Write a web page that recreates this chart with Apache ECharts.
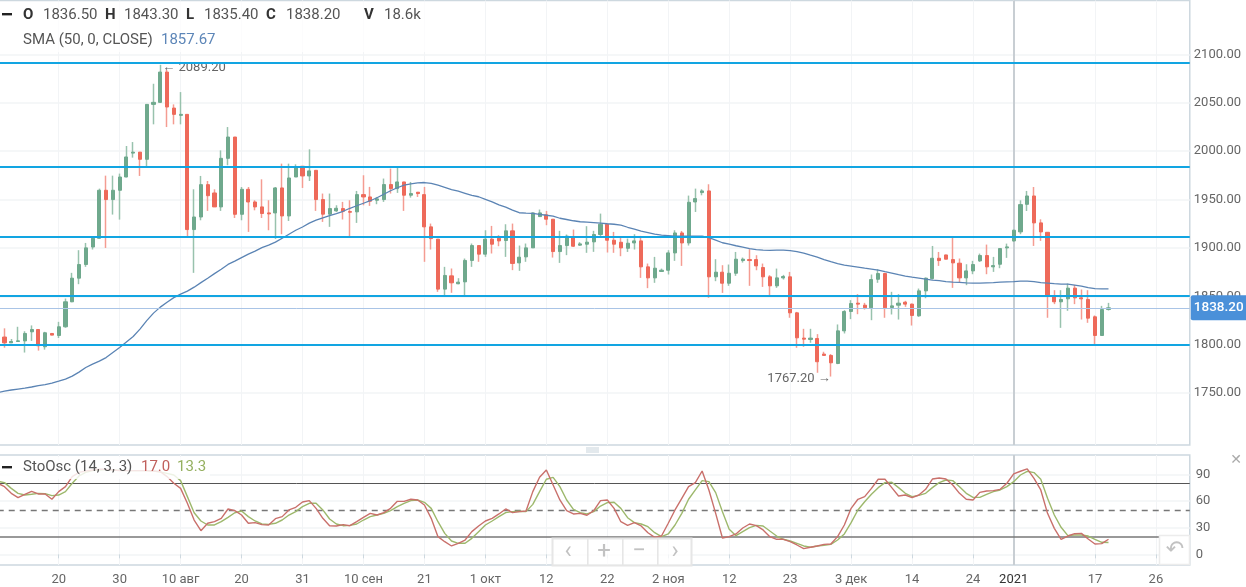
<!DOCTYPE html>
<html><head><meta charset="utf-8"><style>html,body{margin:0;padding:0;background:#fff}#c{width:1246px;height:587px}</style>
<script src="https://cdn.jsdelivr.net/npm/echarts@6/dist/echarts.min.js"></script></head>
<body><div id="c"></div><script>
const opens=[1808,1802,1803.4,1804,1813.4,1815.8,1798,1811.7,1809.6,1818.6,
1844.4,1868.8,1882.9,1901,1910,1959.6,1950,1959.6,1973.3,1998,
1999,1991.6,2048.3,2050.4,2081.7,2044.5,2037,2038,1919,1932,
1965.4,1956.8,1942.4,1992.6,2014.6,1934.8,1960.6,1947.5,1942.4,1936.2,
1936.2,1962,1933.1,1973.3,1984.4,1974.4,1980.2,1950,1934.9,1938.3,
1940.7,1937.6,1937.3,1955.1,1952.7,1949.3,1950,1965.5,1961.3,1968.2,
1954.5,1957.6,1955.1,1921.8,1909.1,1857.5,1871.2,1863,1865,1887.1,
1902.5,1893.6,1909.1,1910.1,1907.7,1917.7,1884.6,1890.8,1900.1,1932.4,
1934.2,1929.7,1896.3,1902.5,1910.8,1902.9,1903.9,1906.3,1913.9,1924.5,
1908,1905.9,1899.7,1905.2,1907.3,1880.5,1869.1,1875.7,1877,1894.9,
1915.5,1905.2,1947.5,1957.2,1958.9,1870.2,1875,1863.6,1873.9,1887,
1888,1888,1879.8,1870.2,1860.9,1869.1,1870.2,1833,1806.9,1805.5,
1806.5,1790.4,1789,1780.7,1814.4,1834.4,1843,1840.9,1838.2,1867.7,
1873.6,1838.5,1840.9,1844,1842,1829.9,1855.7,1868.4,1889.4,1892.8,
1888,1884.3,1869.1,1876.3,1886.7,1892.2,1880.5,1883.2,1900.1,1907.3,
1916.6,1945.1,1953.7,1925.9,1916.2,1849.5,1844.4,1847.5,1858.5,1848.5,
1846.8,1828.9,1809.6,1836.5];
const closes=[1802,1803.4,1804.1,1811.7,1815.8,1799,1812.4,1810,1818.6,1844.4,
1868.8,1882.9,1900.1,1910,1959.6,1950,1959.6,1973.3,1994,1999,
1991.6,2048.3,2050.4,2081.7,2045.6,2038,2038,1919,1932,1965.4,
1954,1942.4,1992.6,2014.6,1934.8,1960.6,1947.5,1942.4,1935.6,1935.2,
1962,1933.1,1972.3,1983.6,1974.4,1979.6,1950,1934.9,1940.7,1941,
1937.9,1936.9,1955.1,1952.7,1948.3,1950.7,1965.5,1961.3,1968.2,1954.5,
1956.2,1956.2,1921.8,1909.7,1857.5,1871.6,1864,1864.7,1887.1,1902.5,
1893.6,1909.1,1903.9,1907.3,1917.7,1884,1890.5,1900.1,1936.2,1936.2,
1929.7,1896.3,1902.5,1912.2,1901.8,1904.2,1906,1913.9,1924.5,1908,
1903.9,1900.1,1904.9,1907.3,1880.5,1869.1,1879.1,1877,1894.9,1915.5,
1905.2,1947.2,1951,1958.9,1870.2,1875,1863.6,1873.9,1888.4,1888.4,
1887,1881.5,1870.2,1860.9,1869.1,1870.5,1833,1807.2,1805.8,1806.9,
1782.5,1789,1781.4,1814.4,1834.4,1842.6,1842,1838.2,1867.4,1873.6,
1838.2,1840.2,1843,1842,1830.3,1855.7,1868.8,1889.4,1887,1888.4,
1884.6,1869.1,1876.3,1882.9,1892.2,1880.5,1881.8,1899.4,1901.1,1918.3,
1944.8,1953.7,1925.9,1916.6,1850.2,1844.4,1846.8,1858.5,1848.5,1847.5,
1827.5,1809.6,1836.4,1838.2];
const lows=[1797,1802,1803,1792,1804,1794,1795,1810,1807,1817.6,
1844,1862.6,1880.5,1898.4,1910,1900,1934.5,1929.3,1973,1993.3,
1974.4,1983.6,2027.7,2050,2024.9,2027.7,2027.7,1912,1874.3,1928.6,
1938.3,1942.4,1938.3,1985.4,1931,1928.6,1916.6,1938.9,1931,1918.3,
1909.4,1914.2,1927.9,1973.3,1962,1969.2,1938.3,1926.9,1921.8,1937.3,
1929.4,1912.2,1925.9,1944.1,1943.5,1945.2,1947.6,1956.2,1956.9,1938.3,
1952,1952.7,1885.7,1898.4,1854.7,1851.3,1853.7,1862.6,1851.3,1880.5,
1885.7,1890.8,1894.3,1901.8,1890.8,1877.1,1876.4,1885.7,1900,1932.1,
1923.5,1890.1,1884.6,1892.6,1901.2,1902.2,1895,1896,1912.2,1895.3,
1895,1891.5,1895.9,1898.4,1869.1,1858.5,1864,1875.3,1872.6,1886.7,
1881.5,1902.5,1937.2,1954.4,1848.5,1865.7,1853.6,1860.9,1871.2,1884.9,
1860.9,1877,1859.8,1851.2,1858.8,1867.4,1827.9,1796.9,1797.9,1802.1,
1771.1,1789,1767.2,1780,1811.7,1826.5,1831.6,1836.4,1825.4,1864,
1827.9,1831.3,1826.1,1839.2,1819.9,1828.9,1848.1,1867.4,1881.5,1888.4,
1858.8,1864.3,1861.6,1872.9,1885.6,1872.9,1875.3,1879.1,1889.8,1906.3,
1914.2,1938.2,1902.1,1907.3,1827.9,1842,1817.5,1835.1,1842,1826.1,
1822.7,1800.7,1809.3,1835.4];
const highs=[1817,1806,1818.6,1814,1820,1816,1813.4,1812,1823.7,1847.8,
1874.3,1897.7,1905.2,1911,1961.3,1974.7,1974.7,1976.8,2005.3,2009.4,
1999,2048.3,2069.6,2089.2,2084.1,2048.3,2061,2038,1960.6,1974.4,
1969.2,1960.6,2000.8,2024.9,2014.6,1963,1963,1949.3,1970.9,1949.3,
1963,1987.1,1987.1,1986.4,1984.4,2001.9,1980.2,1956.2,1956.2,1944.1,
1947.6,1949.3,1958.9,1975.1,1963.1,1952.7,1971.7,1982,1982.7,1968.2,
1968.2,1957.6,1963.1,1925.2,1909.1,1880.5,1878.8,1868.8,1889.1,1904.6,
1902.5,1918.3,1922.8,1913.2,1924.5,1925.2,1902.5,1904.6,1936.5,1939.7,
1938.3,1929.7,1917.7,1913.9,1919,1906,1922.5,1917.7,1935.5,1924.5,
1916.6,1911.4,1909.7,1914.2,1912.5,1883.9,1890.8,1878.7,1897.7,1918.3,
1917.6,1954.1,1961.3,1960.6,1965.8,1888.4,1882.2,1882.9,1895.9,1890.1,
1898.7,1892.5,1883.9,1871.9,1878.7,1872.2,1875.3,1834,1816.5,1816.5,
1811,1792.8,1790.4,1821,1835.8,1846.1,1852.3,1843.3,1872.6,1878.1,
1874.3,1854.7,1852.3,1845.4,1842.6,1858.1,1869.5,1902.1,1895.9,1893,
1910.4,1889.1,1883.2,1886.7,1894.2,1903.5,1890.8,1899.6,1904.5,1919,
1949.2,1958.9,1963,1929.6,1916.2,1856.4,1856.4,1863.3,1861.9,1857.1,
1856.4,1830.3,1840.2,1843.3];
const sma=[1752.2,1753.3,1754.3,1755.3,1756.4,1757.9,1758.9,1760.5,1762.5,1764.6,
1767.7,1771.8,1776.5,1780.1,1783.2,1786.8,1792,1797.1,1802.8,1808.5,
1816.2,1825,1832.7,1838.9,1844,1848.7,1852.3,1855.4,1859.5,1864.2,
1868.8,1873.5,1878.1,1883,1886.4,1890,1893.6,1896.7,1900.3,1902.9,
1906,1910.1,1914.2,1918.3,1921.7,1925.6,1928.7,1931.2,1933.3,1935.4,
1937.9,1941,1943.6,1946.2,1948.8,1951.9,1955.5,1959.1,1962.2,1964.8,
1966.3,1967.3,1967.6,1966.8,1964.8,1962.7,1960.3,1958.6,1956.5,1954.4,
1952.9,1950.3,1947.7,1944.6,1942.1,1939,1936.4,1935.9,1935.7,1934.8,
1933.8,1932.8,1930.7,1929.4,1928.1,1927.1,1926.6,1926.1,1925.6,1925,
1924.5,1923.5,1921.4,1919.4,1917.3,1915.8,1914.2,1913.2,1912.7,1912.1,
1912.1,1912.1,1912.1,1912.1,1910.6,1908,1905.4,1903.9,1902.3,1900.8,
1899.3,1898.2,1897.7,1897.5,1897.7,1897.7,1897.2,1896.2,1894.6,1892.5,
1890.5,1887.9,1885.8,1883.8,1882.2,1881.2,1880.2,1879.1,1878.1,1877.1,
1875.5,1874,1872.4,1870.9,1869.8,1868.8,1867.8,1866.8,1866.2,1865.2,
1864.7,1864.4,1864,1863.7,1863.7,1864,1864.3,1864.7,1865,1865.2,
1865.7,1865.7,1865.2,1864.2,1863.7,1863.1,1862.6,1862.6,1861.6,1860.6,
1859,1858,1857.7,1857.67];
const stoK=[76.1,68.6,63.7,67.5,70.9,67.9,67.9,61.9,70.5,76.1,
87.4,92.2,93.7,94.9,95.6,95.6,94.9,94.1,94.1,94.1,
94.1,94.1,93.7,93,87.4,79.9,74.2,57.4,38.6,26.6,
34.9,36.7,40.5,51,49.1,44.2,34.9,35.6,33.4,33,
40.1,42.4,49.9,52.9,58.9,60.4,51.7,40.5,32.2,31.9,
33.4,32.2,36.7,41.6,46.1,44.2,46.8,51.7,59.6,59.6,
61.9,61.1,55.5,40.5,19.9,14.2,9.4,12.4,16.1,25.5,
31.9,37.5,40.5,45.4,51,46.9,48,48.7,70.5,86.6,
94.9,78,61.1,49.1,45.4,46.1,43.9,49.1,60.4,61.1,
51.7,36.7,32.6,35.6,31.9,24.3,19.1,20.6,34.9,49.9,
63,76.1,80.6,93.7,72.4,46.1,18.3,19.9,22.9,29.6,
34.1,32.2,27.4,19.9,16.9,16.9,14.2,10.5,6.4,7.9,
9.4,11.2,11.6,19.9,33,51.7,61.9,64.9,74.2,84.4,
84.4,75,65.6,66.7,63.7,66.7,73.1,84.7,85.9,84.7,
78,68.6,61.9,61.1,69.7,71.2,71.6,73.1,79.9,90.4,
93.4,96,85.5,72.4,46.1,29.2,16.9,20.6,23.2,23.6,
17.2,11.6,12,17];
const stoD=[80.6,74.2,68.6,66.7,67.5,68.6,68.2,66,66.7,70.5,
79.9,88.1,92.2,94.1,94.9,95.2,94.9,94.5,94.1,94.1,
94.1,94.1,93.7,92.6,91.1,89.2,82.9,64.9,46.8,37.5,
33,33,36.7,41.6,46.8,48.7,42.4,37.5,34.1,33.7,
34.9,38.6,44.2,48,53.6,57.4,57.4,49.9,39.7,34.1,
32.2,32.6,34.1,38.6,42.4,44.2,46.1,49.1,53.6,57.4,
60.4,61.1,58.5,51.7,36.7,23.6,15,12.4,12.4,18,
25.5,33,37.5,42.4,46.9,48,48.4,48,56.2,70.5,
84.4,86.6,76.1,61.1,50.6,46.9,45.4,48,54.3,58.1,
58.5,51.7,41.2,35.6,34.1,31.1,24.3,19.9,22.9,33,
46.1,61.9,72.4,82.9,81.7,69.4,48,28.1,21,25.5,
30,32.6,31.9,26.2,20.6,16.9,15,12.4,9.4,7.9,
9.4,10.1,11.2,16.1,22.9,35.6,49.9,59.2,67.5,75,
80.6,81,75,68.6,64.9,66.3,68.6,75,80.6,83.6,
82.9,76.1,68.6,64.1,64.1,67.5,70.5,72.4,76.1,81.7,
89.2,93.4,91.9,84.4,63,44.2,30.4,21,21.7,21.7,
20.6,16.9,13.5,13.3];
// values of the lines where they enter the chart at its left edge
const smaEntry=1750.6, stoKEntry=80, stoDEntry=82;
const tickIdx=[8,17,26,35,44,53,62,71,80,89,98,107,116,125,134,143,149,161,170];
const tickLabels=['20','30','10 авг','20','31','10 сен','21','1 окт','12','22','2 ноя','12','23','3 дек','14','24','2021','17','26'];
const priceTicks=[1750,1800,1850,1900,1950,2000,2050,2100];
const stoTicks=[0,30,60,90];
const levels=[2091,1983.6,1911.4,1850.6,1799.7];
const stoLevels=[80,20];
const stoMid=50;
const lastPrice=1838.2, peak=2089.2, trough=1767.2;
const peakIdx=23, troughIdx=122, yearIdx=149;
const ohlcLegend=[['O','1836.50',23,43],['H','1843.30',105,124],['L','1835.40',186,204],['C','1838.20',266,286],['V','18.6k',364,384]];

const LEAD=1, SLOTS=177;
const cats=new Array(SLOTS).fill('');
tickIdx.forEach((t,k)=>{cats[t+LEAD]=tickLabels[k]});
const blank=['-','-','-','-'];
const wickData=[blank].concat(opens.map((o,i)=>[o,closes[i],lows[i],highs[i]]));
const bodyData=[blank].concat(opens.map((o,i)=>[o,closes[i],Math.min(o,closes[i]),Math.max(o,closes[i])]));
const UP='#6fa98d',DOWN='#ee6a5a',UPW='#98c2ad',DOWNW='#f49c92',FRAME='#cdd8df',GRID='#f2f4f6',TXT='#666';
const F='Roboto';
const GL=-2.27,GW=1192.05;
const tickOn=i=>!!cats[i];
function xAxis(idx,showLabels){return {type:'category',gridIndex:idx,data:cats,boundaryGap:false,
  axisLine:{show:false},
  axisTick:{show:showLabels,interval:tickOn,length:4,lineStyle:{color:FRAME}},
  axisLabel:{show:showLabels,interval:tickOn,color:TXT,fontFamily:F,fontSize:13,margin:8,hideOverlap:false,
    formatter:v=>v==='2021'?'{y|2021}':v,rich:{y:{color:'#333',fontFamily:F,fontSize:13}}},
  splitLine:{show:true,interval:tickOn,lineStyle:{color:GRID,width:1}}}}
function sep(){return {silent:true,symbol:'none',z:1,label:{show:false},lineStyle:{color:'#c8ced3',width:2,type:'solid'},data:[{xAxis:yearIdx+LEAD}]}}

const g=[];
g.push({type:'rect',shape:{x:0,y:2,width:455,height:50},style:{fill:'rgba(255,255,255,0.75)'},z:90,silent:true});
g.push({type:'rect',shape:{x:0,y:457,width:210,height:22},style:{fill:'rgba(255,255,255,0.82)'},z:90,silent:true});
function T(x,y,text,fill,font,extra){g.push({type:'text',z:100,silent:true,style:Object.assign({x,y,text,fill,font:font||('15px '+F),textVerticalAlign:'middle'},extra||{})})}
g.push({type:'rect',shape:{x:2,y:13,width:10,height:2.4},style:{fill:'#222'},z:100,silent:true});
ohlcLegend.forEach(r=>{T(r[2],15,r[0],'#333','bold 15px '+F);T(r[3],15,r[1],'#555')});
T(23,40,'SMA (50, 0, CLOSE)','#555');T(161,40,sma[sma.length-1].toFixed(2),'#5d86b8');
g.push({type:'rect',shape:{x:2,y:466,width:10,height:2.4},style:{fill:'#222'},z:100,silent:true});
T(23,467.5,'StoOsc (14, 3, 3)','#555');T(141,467.5,stoK[stoK.length-1].toFixed(1),'#c0605c');T(177,467.5,stoD[stoD.length-1].toFixed(1),'#95b060');
[447.5,449.5,451.5].forEach(y=>g.push({type:'rect',shape:{x:586,y:y,width:13,height:1},style:{fill:'#c6d2da'},z:100,silent:true}));
g.push({type:'rect',shape:{x:552.5,y:538.5,width:139,height:27},style:{fill:'rgba(255,255,255,0.75)',stroke:'#e6e6e6',lineWidth:2},z:95,silent:true});
[587,622,657].forEach(x=>g.push({type:'rect',shape:{x:x,y:538,width:1.6,height:27},style:{fill:'#e6e6e6'},z:96,silent:true}));
[['‹',568],['+',604],['−',639],['›',675]].forEach(a=>T(a[1],552,a[0],'#c2c2c2','24px '+F,{textAlign:'center'}));
g.push({type:'rect',shape:{x:1159.5,y:535.5,width:30,height:29},style:{fill:'#fff',stroke:'#ececec',lineWidth:1.5},z:95,silent:true});
T(1175,550,'↶','#c2c2c2','22px DejaVu Sans',{textAlign:'center'});
T(1236,460,'✕','#a9a9a9','14px DejaVu Sans',{textAlign:'center'});

const chart=echarts.init(document.getElementById('c'),null,{renderer:'canvas',width:1246,height:587});
chart.setOption({animation:false,backgroundColor:'#fff',
 graphic:g,
 grid:[{left:GL,width:GW,top:0.5,height:444.5,outerBoundsMode:'none',show:true,borderColor:FRAME,borderWidth:1.5,backgroundColor:'transparent'},
       {left:GL,width:GW,top:455,height:110,outerBoundsMode:'none',show:true,borderColor:FRAME,borderWidth:1.5,backgroundColor:'transparent'}],
 xAxis:[xAxis(0,false),xAxis(1,true)],
 yAxis:[{type:'value',gridIndex:0,position:'right',min:1696.5,max:2155.6,
   axisLine:{show:false},axisTick:{show:false,customValues:priceTicks},
   axisLabel:{customValues:priceTicks,color:TXT,fontFamily:F,fontSize:13,margin:4,verticalAlign:'middle',lineHeight:15,padding:[2,0,0,0],formatter:v=>v.toFixed(2)},
   splitLine:{show:true,lineStyle:{color:GRID,width:1.5}}},
  {type:'value',gridIndex:1,position:'right',min:-12,max:111.7,
   axisLine:{show:false},axisTick:{show:false,customValues:stoTicks},
   axisLabel:{customValues:stoTicks,color:TXT,fontFamily:F,fontSize:13,margin:6},
   splitLine:{show:true,lineStyle:{color:GRID,width:1.5}}}],
 series:[
  {type:'candlestick',name:'wick',xAxisIndex:0,yAxisIndex:0,z:1,barWidth:1,data:wickData,silent:true,
   itemStyle:{color:UPW,color0:DOWNW,borderColor:UPW,borderColor0:DOWNW,borderWidth:1.5},
   markLine:sep()},
  {type:'candlestick',name:'XAU',xAxisIndex:0,yAxisIndex:0,z:2,barWidth:3.6,data:bodyData,silent:true,
   itemStyle:{color:UP,color0:DOWN,borderColor:UP,borderColor0:DOWN,borderWidth:1},
   markPoint:{silent:true,z:4,symbol:'circle',symbolSize:0,
     label:{show:true,color:'#666',fontFamily:F,fontSize:13},
     data:[{coord:[peakIdx+LEAD,peak],label:{position:'right',offset:[-3,3],formatter:'← '+peak.toFixed(2)}},
           {coord:[troughIdx+LEAD,trough],label:{position:'left',offset:[5,2],formatter:trough.toFixed(2)+' →'}}]},
   markLine:{silent:true,symbol:'none',z:5,animation:false,
     data:levels.map(v=>({yAxis:v,label:{show:false},lineStyle:{color:'#12a5e2',width:2,type:'solid'}})).concat([
       {yAxis:lastPrice,lineStyle:{color:'#a9c4e6',width:1,type:'solid'},
        label:{show:true,position:'end',formatter:lastPrice.toFixed(2),color:'#fff',fontFamily:F,fontSize:13.5,fontWeight:500,
          backgroundColor:'#4a90d9',borderRadius:2,padding:[6,4,5,3],distance:1}}])}},
  {type:'line',name:'SMA',xAxisIndex:0,yAxisIndex:0,z:3,data:[smaEntry].concat(sma),symbol:'none',silent:true,
   lineStyle:{color:'#5b84b4',width:1.3}},
  {type:'line',name:'StoD',xAxisIndex:1,yAxisIndex:1,z:3,data:[stoDEntry].concat(stoD),symbol:'none',silent:true,
   lineStyle:{color:'#9db86c',width:1.4},markLine:sep()},
  {type:'line',name:'StoK',xAxisIndex:1,yAxisIndex:1,z:4,data:[stoKEntry].concat(stoK),symbol:'none',silent:true,
   lineStyle:{color:'#c9706b',width:1.4},
   markLine:{silent:true,symbol:'none',z:2,label:{show:false},
     data:stoLevels.map((v,i)=>({yAxis:v,lineStyle:{color:i?'#777':'#555',width:i?1.5:1,type:'solid'}})).concat([
       {yAxis:stoMid,lineStyle:{color:'#777',width:1.3,type:[6,5]}}])}}
 ]});
</script></body></html>
